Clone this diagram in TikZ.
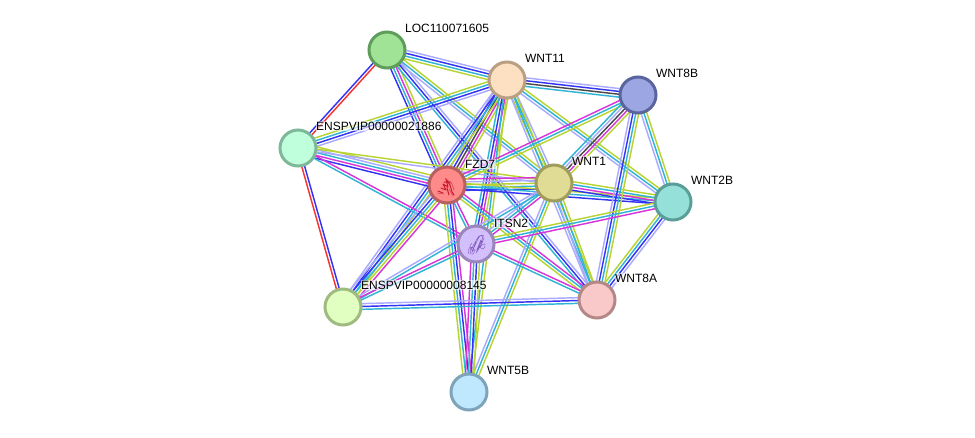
\documentclass[tikz,border=0pt]{standalone}
\usepackage{fontspec}
\setmainfont{Liberation Sans}
\usetikzlibrary{calc,backgrounds}
\definecolor{lavc}{HTML}{AAAAFF}
\definecolor{bluc}{HTML}{3333F5}
\definecolor{cyac}{HTML}{30B4D6}
\definecolor{magc}{HTML}{D835D8}
\definecolor{yelc}{HTML}{B8D432}
\definecolor{blkc}{HTML}{4A4A4A}
\definecolor{redc}{HTML}{F53333}
\tikzset{
  lav/.style={draw=lavc}, blu/.style={draw=bluc}, cya/.style={draw=cyac},
  mag/.style={draw=magc}, yel/.style={draw=yelc}, blk/.style={draw=blkc},
  rdd/.style={draw=redc},
  protein/.style={circle,minimum size=36pt,inner sep=0pt,line width=3pt},
  tag/.style={anchor=west,inner sep=0.6pt,fill=white,fill opacity=.62,text opacity=1,
    font=\fontsize{12}{14}\selectfont},
  fold/.style={line join=round,line cap=round}
}
% One evidence bundle: parallel lines between two proteins, listed across the edge.
\newcommand\bundle[3]{%
  \foreach \c [count=\i] in {#3}{\global\let\nn\i}%
  \foreach \c [count=\i] in {#3}{%
    \pgfmathsetmacro\off{(\i-(\nn+1)/2)*2.85}%
    \draw[\c,line width=1.45pt] ($(#1)!\off pt!-90:(#2)$) -- ($(#2)!\off pt!90:(#1)$);
  }%
}
\begin{document}
\begin{tikzpicture}[x=1pt,y=-1pt]
\useasboundingbox (0,0) rectangle (975,437);
% proteins
\node[protein,draw={rgb,255:red,95;green,158;blue,90},fill={rgb,255:red,160;green,226;blue,150}] (loc) at (387,50) {};
\node[protein,draw={rgb,255:red,185;green,160;blue,130},fill={rgb,255:red,253;green,223;blue,194}] (w11) at (507,80) {};
\node[protein,draw={rgb,255:red,90;green,101;blue,158},fill={rgb,255:red,155;green,166;blue,226}] (w8b) at (638,95) {};
\node[protein,draw={rgb,255:red,127;green,184;blue,152},fill={rgb,255:red,191;green,255;blue,219}] (e21) at (298,148) {};
\node[protein,draw={rgb,255:red,184;green,95;blue,95},fill={rgb,255:red,255;green,138;blue,138}] (fzd) at (447,185) {};
\node[protein,draw={rgb,255:red,160;green,157;blue,90},fill={rgb,255:red,224;green,220;blue,150}] (w1) at (554,183) {};
\node[protein,draw={rgb,255:red,90;green,158;blue,152},fill={rgb,255:red,149;green,224;blue,216}] (w2b) at (673,202) {};
\node[protein,draw={rgb,255:red,154;green,134;blue,187},fill={rgb,255:red,211;green,191;blue,251}] (itn) at (476,244) {};
\node[protein,draw={rgb,255:red,181;green,136;blue,136},fill={rgb,255:red,249;green,200;blue,200}] (w8a) at (597,300) {};
\node[protein,draw={rgb,255:red,160;green,187;blue,128},fill={rgb,255:red,226;green,255;blue,194}] (e81) at (343,307) {};
\node[protein,draw={rgb,255:red,127;green,163;blue,187},fill={rgb,255:red,191;green,232;blue,255}] (w5b) at (469,392) {};
% folded-chain glyphs inside the two proteins with known structures
\draw[fold,line width=1pt,draw={rgb,255:red,205;green,25;blue,45}]
  (438,191) -- (443,193) (441,188) -- (446,190) -- (443,184) -- (448,187) -- (446,179) -- (450,185) -- (452,192) -- (454,195)
  (447,188) -- (449,195) (444,182) -- (451,182);
\draw[fold,line width=.5pt,draw={rgb,255:red,200;green,60;blue,80}]
  (445,178) -- (452,184) -- (454,190) (437,193) -- (444,194) (449,189) -- (453,196);
\draw[fold,line width=.45pt,draw={rgb,255:red,130;green,90;blue,190}]
  (469,254) .. controls (466,248) and (472,245) .. (474,249) .. controls (476,254) and (470,257) .. (470,251)
  -- (477,239) .. controls (479,234) and (484,234) .. (482,240) -- (476,253)
  .. controls (479,247) and (486,240) .. (485,246) .. controls (484,250) and (481,250) .. (480,246)
  (474,247) -- (479,237) .. controls (483,232) and (487,237) .. (481,243)
  (472,243) .. controls (468,246) and (470,252) .. (476,250) (478,250) -- (483,241);
\draw[fold,line width=.8pt,draw={rgb,255:red,125;green,85;blue,185}]
  (472,252) -- (476,242) (477,250) -- (481,240);
% labels
\node[tag] (tloc) at (404.3,28) {LOC110071605};
\node[tag] (tw11) at (524.3,58) {WNT11};
\node[tag] (tw8b) at (655.3,73) {WNT8B};
\node[tag] (te21) at (315.3,126) {ENSPVIP00000021886};
\node[tag] (tfzd) at (464.3,164) {FZD7};
\node[tag] (tw1) at (571.3,161) {WNT1};
\node[tag] (tw2b) at (690.3,180) {WNT2B};
\node[tag] (titn) at (493.3,223) {ITSN2};
\node[tag] (tw8a) at (614.3,278) {WNT8A};
\node[tag] (te81) at (360.3,285) {ENSPVIP00000008145};
\node[tag] (tw5b) at (486.3,370) {WNT5B};
% evidence lines sit underneath everything else
\begin{scope}[on background layer]
\fill[white] (0,0) rectangle (975,437);
\bundle{loc}{w11}{lav,blu,cya,yel}
\bundle{loc}{fzd}{yel,mag,cya,blu}
\bundle{loc}{e21}{rdd,blu}
\bundle{loc}{w1}{yel,cya,lav}
\bundle{loc}{w8a}{lav,blu,cya}
\bundle{w11}{e21}{lav,blu,cya,yel}
\bundle{w11}{fzd}{yel,mag,blk,blu,lav}
\bundle{w11}{e81}{yel,cya,blu,lav}
\bundle{w11}{itn}{yel,mag,blu,cya}
\bundle{w11}{w5b}{yel,cya}
\bundle{w11}{w8b}{lav,blu,blk,cya}
\bundle{w11}{w1}{lav,cya,yel}
\bundle{w11}{w2b}{yel,cya,lav}
\bundle{w11}{w8a}{yel,cya,lav}
\bundle{e21}{fzd}{yel,lav,cya,mag,blu}
\bundle{e21}{w1}{yel,lav}
\bundle{e21}{itn}{mag,cya}
\bundle{e21}{e81}{blu,rdd}
\bundle{fzd}{e81}{mag,yel,cya,blu,lav}
\bundle{fzd}{w1}{mag,lav,yel,cya,blu}
\bundle{fzd}{w2b}{yel,cya,blu}
\bundle{fzd}{w8b}{mag,cya,yel}
\bundle{fzd}{itn}{mag,cya}
\bundle{fzd}{w8a}{mag,cya,yel}
\bundle{fzd}{w5b}{mag,blu,cya,yel}
\bundle{w1}{w8b}{cya,lav,blk,mag,yel}
\bundle{w1}{w2b}{yel,cya,mag,blu}
\bundle{w1}{itn}{mag,cya,lav}
\bundle{w1}{e81}{cya,lav}
\bundle{w1}{w5b}{yel,cya,lav}
\bundle{w1}{w8a}{yel,cya,lav}
\bundle{w8b}{w2b}{yel,cya,lav}
\bundle{w8b}{w8a}{yel,cya,blu,lav}
\bundle{w2b}{w8a}{lav,blu,cya,yel}
\bundle{w2b}{itn}{mag,cya,yel}
\bundle{itn}{w8a}{mag,cya}
\bundle{itn}{e81}{cya,mag}
\bundle{itn}{w5b}{yel,blu,cya,mag}
\bundle{e81}{w8a}{lav,blu,cya}
\end{scope}
\end{tikzpicture}
\end{document}
